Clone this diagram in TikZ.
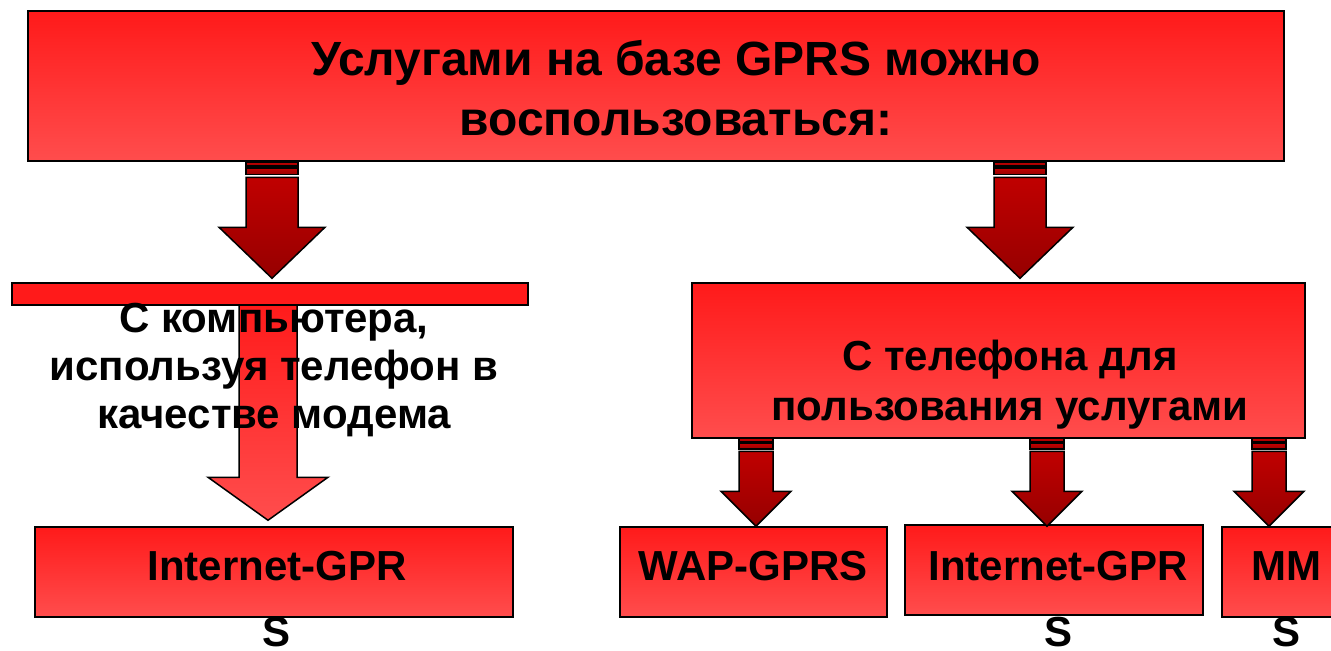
\documentclass[tikz,border=0pt]{standalone}
\usepackage{fontspec}
\setmainfont{Liberation Sans}
\usetikzlibrary{calc}

\definecolor{boxtop}{HTML}{FF1A1A}
\definecolor{boxbot}{HTML}{FF4D4D}
\definecolor{arrtop}{HTML}{C00000}
\definecolor{arrbot}{HTML}{960000}

\begin{document}
\begin{tikzpicture}[
        x=0.5pt, y=-0.5pt,
        redbox/.style={rectangle, draw=black, line width=0.75pt, inner sep=0pt,
            top color=boxtop, bottom color=boxbot},
        dark arrow/.style={draw=black, line width=0.75pt, top color=arrtop, bottom color=arrbot},
        light arrow/.style={draw=black, line width=0.75pt, top color=boxtop, bottom color=boxbot},
        caption/.style={anchor=north, align=center, inner sep=0pt,
            font=\fontsize{21}{#1}\selectfont\bfseries},
        pics/fatarrow/.style args={#1/#2/#3/#4/#5}{code={
            % shaft half width / head half width / head length / shaft length / gap
            \path[pic actions] (0,0) -- (-#2,-#3) -- (-#1,-#3) -- (-#1,-#4) -- (#1,-#4)
                -- (#1,-#3) -- (#2,-#3) -- cycle;
            \path[pic actions] (-#1,{-#4-0.15*#5}) rectangle (#1,{-#4-0.55*#5});
            \path[pic actions] (-#1,{-#4-0.65*#5}) rectangle (#1,{-#4-0.9*#5});
        }}
    ]

    \useasboundingbox (0,0) rectangle (1331,650);
    \clip (0,0) rectangle (1331,650);

    % boxes
    \node[redbox, minimum width=628pt, minimum height=75pt] (gprs) at (656,86) {};
    \node[redbox, minimum width=239pt, minimum height=45pt] (inetpc) at (274,572) {};
    \node[redbox, minimum width=306.5pt, minimum height=77.5pt] (phone) at (998.5,360.5) {};
    \node[redbox, minimum width=133.5pt, minimum height=45pt] (wap) at (753.5,572) {};
    \node[redbox, minimum width=149pt, minimum height=45pt] (inetph) at (1054,570) {};
    \node[redbox, minimum width=64pt, minimum height=45pt] (mms) at (1286,572) {};

    % the light arrow runs under the bar
    \pic[light arrow] at ($(inetpc.north)+(-6,-6)$) {fatarrow=29/60/43/220/0};
    \node[rectangle, draw=black, line width=0.75pt, fill=boxtop, inner sep=0pt,
        minimum width=258pt, minimum height=11pt] (pc) at (270,294) {};

    % dark arrows
    \pic[dark arrow] at ($(pc.north)+(2,-4)$) {fatarrow=26/53/51/101/17};
    \pic[dark arrow] at ($(phone.north)+(21.5,-4)$) {fatarrow=26/53/51/101/17};
    \pic[dark arrow] at ($(wap.north)+(2.5,0)$) {fatarrow=17/35/35/75/14};
    \pic[dark arrow] at ($(inetph.north)+(-7,2)$) {fatarrow=17/35/35/75/14};
    \pic[dark arrow] at ($(mms.north)+(-17,0)$) {fatarrow=17/35/35/75/14};

    % texts
    \node[caption=30, font=\fontsize{24}{30}\selectfont\bfseries] (gprstext) at (676,40)
        {Услугами на базе GPRS можно\\воспользоваться:};
    \node[caption=24] (pctext) at (274,303) {С компьютера,\\используя телефон в\\качестве модема};
    \node[caption=25] (phonetext) at (1010,340) {С телефона для\\пользования услугами};
    \node[caption=33] (inetpctext) at (277,551) {Internet-GPR\\S};
    \node[caption=33] (waptext) at (753,551) {WAP-GPRS};
    \node[caption=33] (inetphtext) at (1058,551) {Internet-GPR\\S};
    \node[caption=33] (mmstext) at (1286,551) {MM\\S};
\end{tikzpicture}
\end{document}
